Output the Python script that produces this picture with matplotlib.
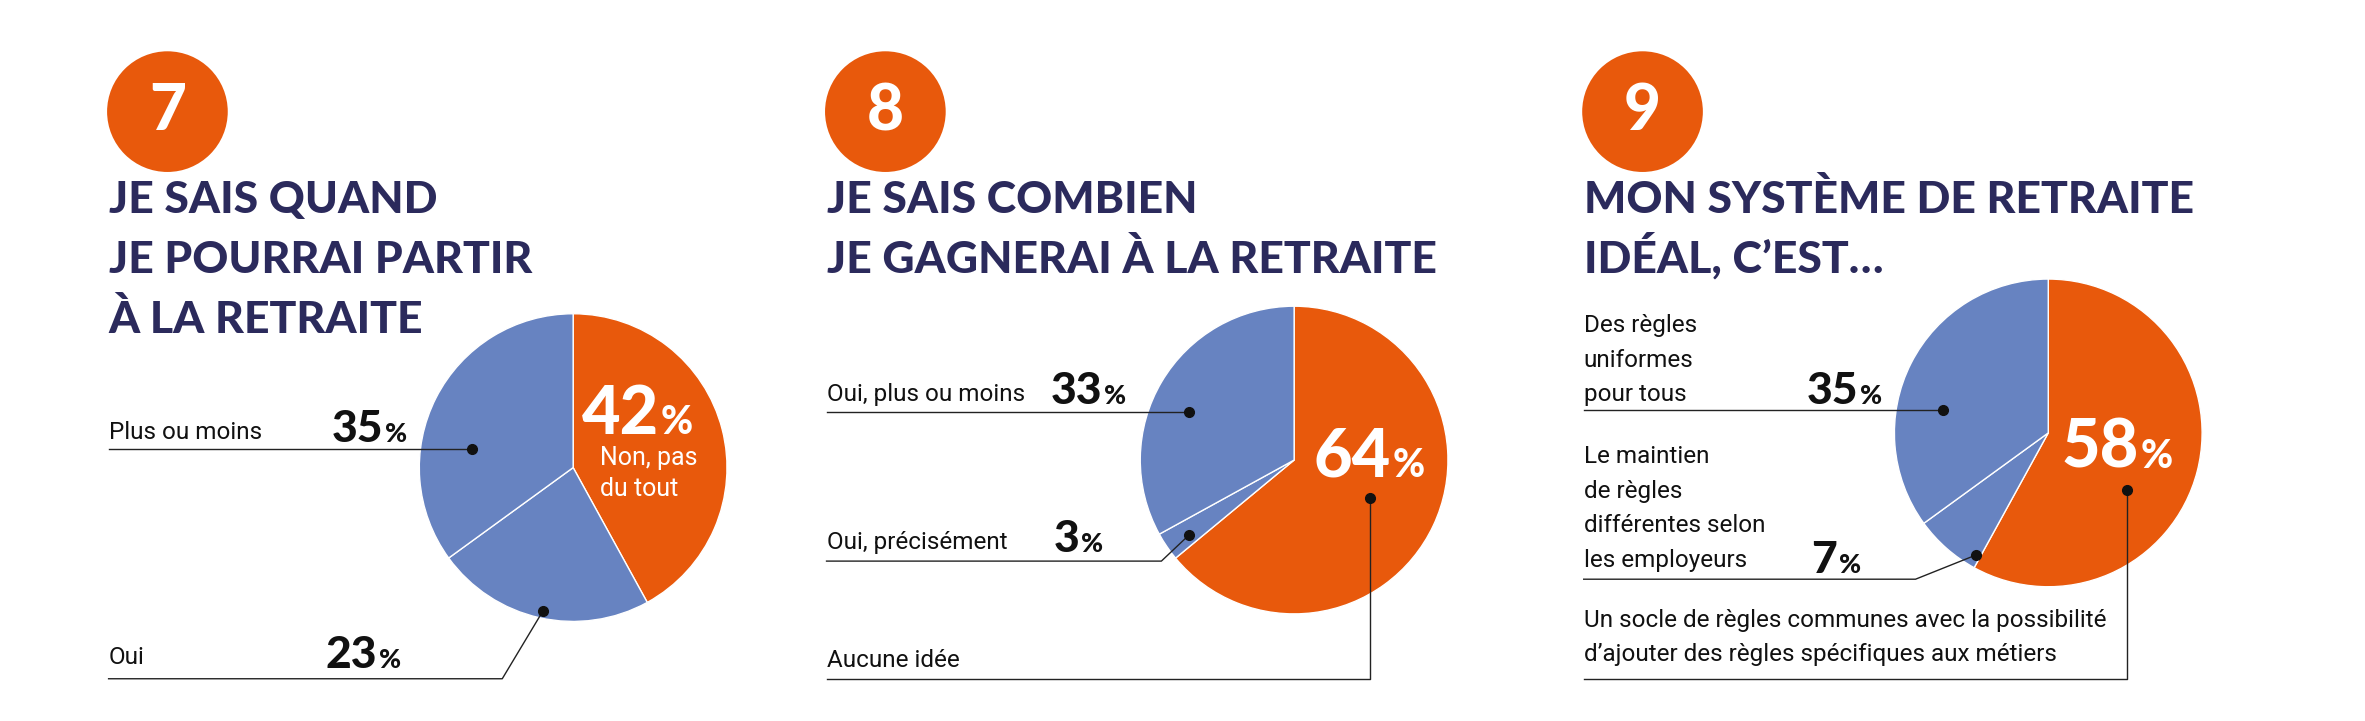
import matplotlib
matplotlib.use("Agg")
import matplotlib.pyplot as plt
from matplotlib.patches import Circle
from matplotlib import font_manager as fm

# ---- data ----
numbers = ["7", "8", "9"]
titles = [["JE SAIS QUAND", "JE POURRAI PARTIR", "À LA RETRAITE"],
          ["JE SAIS COMBIEN", "JE GAGNERAI À LA RETRAITE"],
          ["MON SYSTÈME DE RETRAITE", "IDÉAL, C’EST…"]]
values1 = [42, 23, 35]
labels1 = ["Non, pas\ndu tout", "Oui", "Plus ou moins"]
values2 = [64, 3, 33]
labels2 = ["Aucune idée", "Oui, précisément", "Oui, plus ou moins"]
values3 = [58, 7, 35]
labels3 = ["Un socle de règles communes avec la possibilité\nd’ajouter des règles spécifiques aux métiers",
           "Le maintien\nde règles\ndifférentes selon\nles employeurs",
           "Des règles\nuniformes\npour tous"]

ORANGE = "#e8590c"
BLUE = "#6783c1"
NAVY = "#2b2a5c"
names = {f.name for f in fm.fontManager.ttflist}
NARROW = "Liberation Sans Narrow" if "Liberation Sans Narrow" in names else "Roboto"
BOLD = "Lato"

W, H = 1568, 478
fig = plt.figure(figsize=(23.65, 7.21), dpi=100)
ax = fig.add_axes([0, 0, 1, 1])
ax.set_xlim(0, W); ax.set_ylim(0, H); ax.set_aspect("equal"); ax.axis("off")
Y = lambda y: H - y

def header(x0, cx, num, lines):
    ax.add_patch(Circle((cx, Y(74)), 40, color=ORANGE, lw=0))
    ax.text(cx, Y(74), num, color="white", fontsize=46, fontweight="black",
            family=BOLD, ha="center", va="center")
    for i, l in enumerate(lines):
        ax.text(x0, Y(141 + 40 * i), l, color=NAVY, fontsize=32, fontweight="black",
                family=BOLD, ha="left", va="baseline")

def pie(cx, cy, vals):
    ax.pie(vals, colors=[ORANGE, BLUE, BLUE], startangle=90, counterclock=False,
           center=(cx, Y(cy)), radius=102, frame=True,
           wedgeprops=dict(edgecolor="white", linewidth=1))

def pct(xr, y, v, size=32):
    ax.text(xr, Y(y), str(v), fontsize=size, fontweight="black", family=BOLD,
            ha="right", va="baseline", color="#111111")
    ax.text(xr + 1, Y(y), "%", fontsize=size * 0.6, fontweight="black", family=BOLD,
            ha="left", va="baseline", color="#111111")

def label(x, y, txt, step=23):
    for i, l in enumerate(txt.split("\n")):
        ax.text(x, Y(y + step * i), l, fontsize=17.5, family=NARROW, ha="left",
                va="baseline", color="#111111")

def leader(pts):
    xs = [p[0] for p in pts]; ys = [Y(p[1]) for p in pts]
    ax.plot(xs, ys, color="#222222", lw=1)
    ax.plot(xs[-1], ys[-1], "o", color="#111111", ms=7)

def bigpct(xr, y, v):
    ax.text(xr, Y(y), str(v), fontsize=48, fontweight="black", family=BOLD,
            color="white", ha="right", va="baseline")
    ax.text(xr + 1, Y(y), "%", fontsize=28, fontweight="black", family=BOLD,
            color="white", ha="left", va="baseline")

# panel 1
header(72, 111, numbers[0], titles[0])
pie(380, 310, values1)
bigpct(437, 288, values1[0])
for i, l in enumerate(labels1[0].split("\n")):
    ax.text(398, Y(308 + 21 * i), l, fontsize=18, family=NARROW, color="white", va="baseline")
label(72, 291, labels1[2]); pct(254, 293, values1[2])
leader([(72, 298), (313, 298)])
label(72, 440, labels1[1]); pct(250, 443, values1[1])
leader([(72, 450), (333, 450), (360, 405)])

# panel 2
header(548, 587, numbers[1], titles[1])
pie(858, 305, values2)
bigpct(922, 316, values2[0])
label(548, 266, labels2[2]); pct(731, 268, values2[2])
leader([(548, 273), (788, 273)])
label(548, 364, labels2[1]); pct(716, 366, values2[1])
leader([(548, 372), (770, 372), (788, 355)])
label(548, 442, labels2[0])
leader([(548, 450), (908, 450), (908, 330)])

# panel 3
header(1050, 1089, numbers[2], titles[2])
pie(1358, 287, values3)
bigpct(1418, 310, values3[0])
label(1050, 220, labels3[2]); pct(1232, 268, values3[2])
leader([(1050, 272), (1288, 272)])
label(1050, 307, labels3[1]); pct(1218, 380, values3[1])
leader([(1050, 384), (1270, 384), (1310, 368)])
label(1050, 416, labels3[0], step=22)
leader([(1050, 450), (1410, 450), (1410, 325)])

ax.set_xlim(0, W); ax.set_ylim(0, H); ax.axis("off")
fig.savefig("out.png", dpi=100, facecolor="white")
